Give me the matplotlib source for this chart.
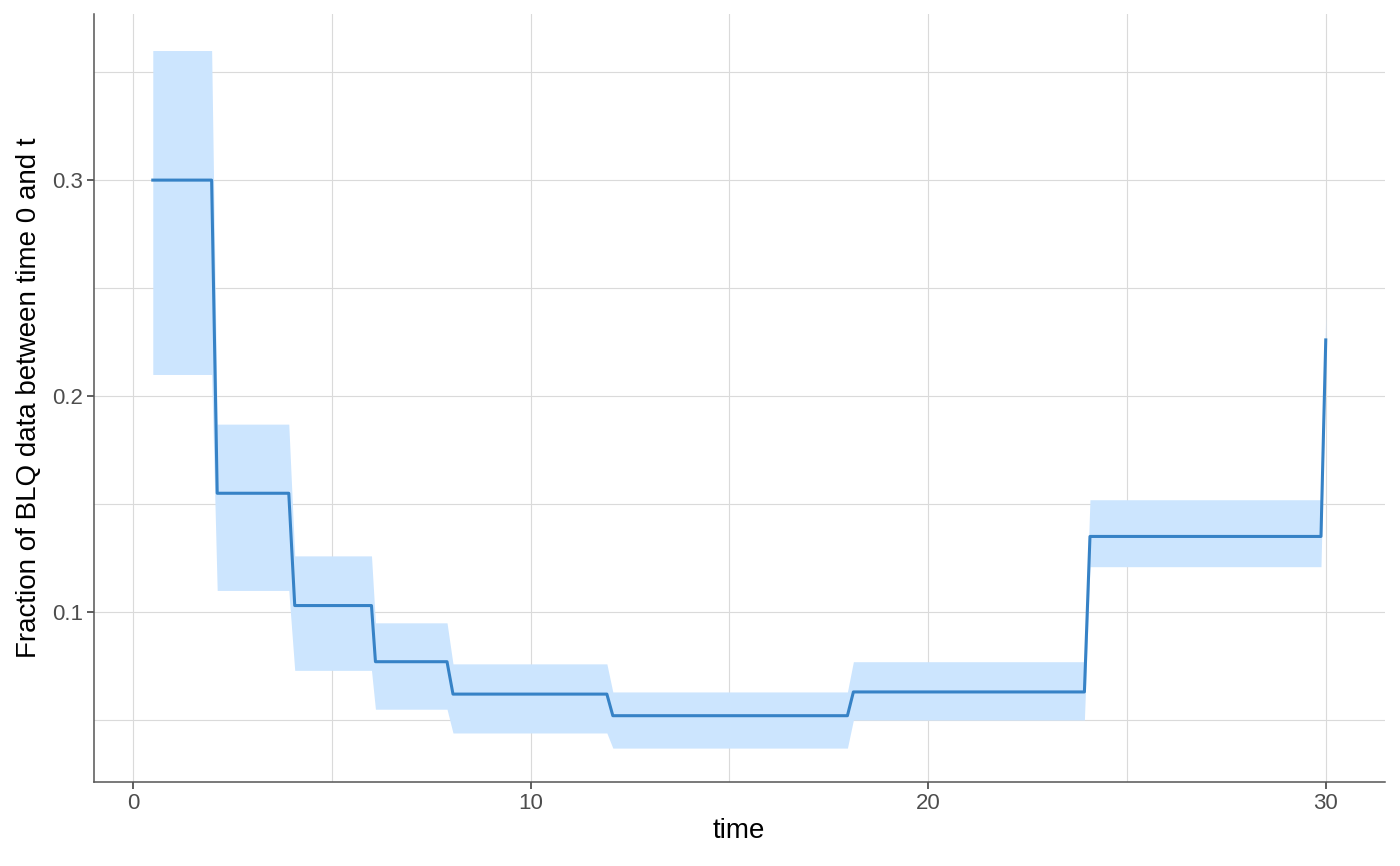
import matplotlib.pyplot as plt
import numpy as np

# time points of the step curve
time = [0.5, 1.98, 2.12, 3.92, 4.07, 6.0, 6.1, 7.9, 8.05, 11.92, 12.07,
        17.97, 18.12, 23.93, 24.07, 29.88, 30.0]
frac = [0.300, 0.300, 0.155, 0.155, 0.103, 0.103, 0.077, 0.077, 0.062, 0.062,
        0.052, 0.052, 0.063, 0.063, 0.135, 0.135, 0.226]
lower = [0.210, 0.210, 0.110, 0.110, 0.073, 0.073, 0.055, 0.055, 0.044, 0.044,
         0.037, 0.037, 0.050, 0.050, 0.121, 0.121, 0.214]
upper = [0.360, 0.360, 0.187, 0.187, 0.126, 0.126, 0.095, 0.095, 0.076, 0.076,
         0.063, 0.063, 0.077, 0.077, 0.152, 0.152, 0.238]

x_ticks = [0, 10, 20, 30]
y_ticks = [0.1, 0.2, 0.3]

plt.rcParams['font.family'] = ['Liberation Sans', 'DejaVu Sans']

fig = plt.figure(figsize=(14, 8.66), dpi=100)
ax = fig.add_axes([0.0671, 0.097, 0.9219, 0.8868])

ax.fill_between(time, lower, upper, color='#cce5fe', linewidth=0, zorder=2)
ax.plot(time, frac, color='#3682c6', linewidth=2.2, zorder=3)

ax.set_xlim(-0.98, 31.48)
ax.set_ylim(0.0213, 0.3769)
ax.set_xticks(x_ticks)
ax.set_yticks(y_ticks)
ax.set_xticks([5, 15, 25], minor=True)
ax.set_yticks([0.05, 0.15, 0.25, 0.35], minor=True)
ax.set_xticklabels([str(v) for v in x_ticks])
ax.set_yticklabels([str(v) for v in y_ticks])

ax.grid(True, which='both', color='#dadada', linewidth=0.8, zorder=0)
ax.set_axisbelow(True)
ax.tick_params(which='major', length=5, width=1.1, color='#333333',
               labelcolor='#4d4d4d', labelsize=16, pad=3)
ax.tick_params(which='minor', length=0)

for side in ['top', 'right']:
    ax.spines[side].set_visible(False)
for side in ['left', 'bottom']:
    ax.spines[side].set_color('#555555')
    ax.spines[side].set_linewidth(1.1)

ax.set_xlabel('time', fontsize=20, labelpad=3)
ax.set_ylabel('Fraction of BLQ data between time 0 and t', fontsize=20, labelpad=7)

fig.savefig('out.png', dpi=100)
